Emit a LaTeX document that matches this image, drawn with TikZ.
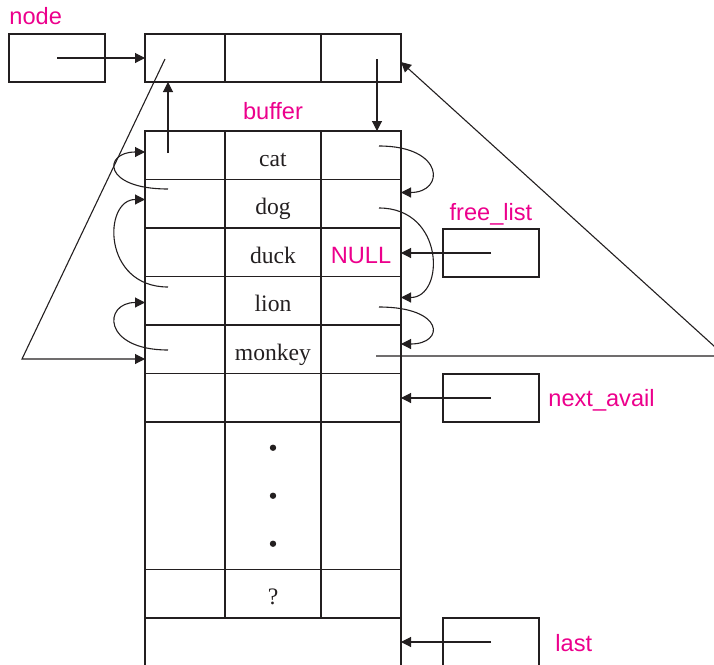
\documentclass[tikz,border=0pt]{standalone}
\usepackage{fontspec}
\setmainfont{Liberation Serif}
\setsansfont{Liberation Sans}
\usetikzlibrary{positioning,arrows.meta,calc}
\definecolor{lblCol}{HTML}{EC008C}
\definecolor{lineCol}{HTML}{231F20}

\begin{document}
\begin{tikzpicture}[
  x=0.5pt, y=-0.5pt,
  font=\fontsize{11.8}{14}\selectfont,
  cell/.style={draw=lineCol, line width=0.85pt, outer sep=0pt, inner sep=0pt,
               minimum height=24.25pt, text height=11pt, text depth=0pt, text=lineCol},
  sidecell/.style={cell, minimum width=40pt},
  midcell/.style={cell, minimum width=48pt},
  ptrbox/.style={draw=lineCol, line width=0.7pt, outer sep=0pt, inner sep=0pt,
                 minimum width=48pt, minimum height=24pt},
  ptr/.style={-{Triangle[length=5pt,width=5pt]}, line width=0.55pt, draw=lineCol},
  lbl/.style={font=\sffamily\fontsize{11.8}{14}\selectfont, text=lblCol, inner sep=0pt},
]
\useasboundingbox (0,0) rectangle (714,665);

% ---- node y su puntero ----
\node[ptrbox] (nodeptr) at (57,58) {};
\node[sidecell, minimum height=24pt]                   (topL) at (185,58) {};
\node[midcell,  minimum height=24pt, right=0pt of topL] (topM) {};
\node[sidecell, minimum height=24pt, right=0pt of topM] (topR) {};

% ---- buffer ----
\node[sidecell] (catL) at (185,155.25) {};
\node[midcell,  right=0pt of catL] (catM) {cat};
\node[sidecell, right=0pt of catM] (catR) {};

\node[sidecell, below=0pt of catL] (dogL) {};
\node[midcell,  right=0pt of dogL] (dogM) {dog};
\node[sidecell, right=0pt of dogM] (dogR) {};

\node[sidecell, below=0pt of dogL] (duckL) {};
\node[midcell,  right=0pt of duckL] (duckM) {duck};
\node[sidecell, lbl, right=0pt of duckM] (duckR) {NULL};

\node[sidecell, below=0pt of duckL] (lionL) {};
\node[midcell,  right=0pt of lionL] (lionM) {lion};
\node[sidecell, right=0pt of lionM] (lionR) {};

\node[sidecell, below=0pt of lionL] (monkeyL) {};
\node[midcell,  right=0pt of monkeyL] (monkeyM) {monkey};
\node[sidecell, right=0pt of monkeyM] (monkeyR) {};

\node[sidecell, below=0pt of monkeyL] (availL) {};
\node[midcell,  right=0pt of availL] (availM) {};
\node[sidecell, right=0pt of availM] (availR) {};

\node[sidecell, minimum height=73.75pt, below=0pt of availL] (dotsL) {};
\node[midcell,  minimum height=73.75pt, right=0pt of dotsL] (dotsM) {};
\node[sidecell, minimum height=73.75pt, right=0pt of dotsM] (dotsR) {};

\node[sidecell, below=0pt of dotsL] (qL) {};
\node[midcell,  right=0pt of qL] (qM) {?};
\node[sidecell, right=0pt of qM] (qR) {};

\node[cell, minimum width=128pt, minimum height=25pt, below=0pt of qM] (lastrow) {};

\fill[lineCol] ($(dotsM.center)+(0,-48)$) circle (1.6pt);
\fill[lineCol] (dotsM.center) circle (1.6pt);
\fill[lineCol] ($(dotsM.center)+(0,48)$) circle (1.6pt);

% ---- punteros externos ----
\node[ptrbox] (freelist)  at (491,253) {};
\node[ptrbox] (nextavail) at (491,398) {};
\node[ptrbox] (lastptr)   at (491,642) {};

% ---- etiquetas ----
\node[lbl, anchor=base west] at ([yshift=5pt]nodeptr.north west) {node};
\node[lbl, anchor=base]      at ([yshift=6pt]catM.north) {buffer};
\node[lbl, anchor=base]      at ([yshift=4.5pt]freelist.north) {free\_list};
\node[lbl, anchor=base west] at ([xshift=4.5pt,yshift=-4pt]nextavail.east) {next\_avail};
\node[lbl, anchor=base west] at ([xshift=8pt,yshift=-4.5pt]lastptr.east) {last};

% ---- origenes de los punteros ----
\coordinate (topLp)    at (165,59);
\coordinate (topRp)    at (377,59);
\coordinate (catLp)    at (168,153);
\coordinate (dogLp)    at (168,189);
\coordinate (lionLp)   at (168,287);
\coordinate (monkeyLp) at (168,350);
\coordinate (catRp)    at (379,146);
\coordinate (dogRp)    at (379,208);
\coordinate (lionRp)   at (379,307);
\coordinate (monkeyRp) at (376,356);
\coordinate (lbend)    at (22,359);
\coordinate (rbend)    at (725,356);

% ---- flechas ----
\draw[ptr] (nodeptr.center) -- (topL.west);
\draw[ptr] (topRp) -- (topRp |- catR.north);
\draw[ptr] (catLp) -- (catLp |- topL.south);
\draw[ptr] (topLp) -- (lbend) -- (lbend -| monkeyL.west);
\draw[ptr] (monkeyRp) -- (rbend) -- ([yshift=-2pt]topR.east);

\draw[ptr] (freelist.center)  -- (freelist.center -| duckR.east);
\draw[ptr] (nextavail.center) -- (nextavail.center -| availR.east);
\draw[ptr] (lastptr.center)   -- (lastptr.center -| lastrow.east);

% lista de libres (derecha)
\draw[ptr] (catRp)  .. controls +(66,0) and +(44,0) .. ($(dogR.north east)+(0,13)$);
\draw[ptr] (dogRp)  .. controls +(66,0) and +(44,0) .. ($(lionR.north east)+(0,21)$);
\draw[ptr] (lionRp) .. controls +(66,0) and +(44,0) .. ($(monkeyR.north east)+(0,19)$);

% enlaces hacia atras (izquierda)
\draw[ptr] (dogLp)    .. controls +(-66,0) and +(-42,0) .. ($(catL.north west)+(0,21)$);
\draw[ptr] (lionLp)   .. controls +(-66,0) and +(-42,0) .. ($(dogL.north west)+(0,20)$);
\draw[ptr] (monkeyLp) .. controls +(-66,0) and +(-42,0) .. ($(lionL.north west)+(0,26)$);

\end{tikzpicture}
\end{document}
